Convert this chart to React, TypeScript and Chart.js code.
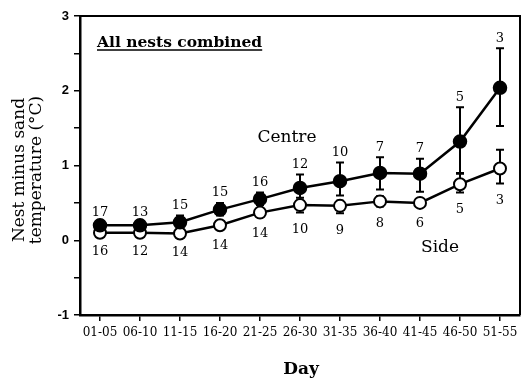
import React, { useEffect, useRef } from "react";
import { Chart, registerables } from "chart.js";

Chart.register(...registerables);

const categories = ["01-05", "06-10", "11-15", "16-20", "21-25", "26-30", "31-35", "36-40", "41-45", "46-50", "51-55"];

const centreValues = [0.2, 0.2, 0.24, 0.41, 0.55, 0.7, 0.79, 0.9, 0.89, 1.32, 2.04];
const centreUpper = [0.23, 0.23, 0.33, 0.5, 0.64, 0.88, 1.04, 1.11, 1.09, 1.78, 2.57];
const centreLower = [0.17, 0.17, 0.16, 0.33, 0.47, 0.57, 0.6, 0.68, 0.65, 0.89, 1.53];
const centreN = ["17", "13", "15", "15", "16", "12", "10", "7", "7", "5", "3"];

const sideValues = [0.1, 0.1, 0.09, 0.2, 0.37, 0.47, 0.46, 0.52, 0.5, 0.75, 0.96];
const sideUpper = [0.12, 0.12, 0.11, 0.23, 0.41, 0.53, 0.53, 0.59, 0.54, 0.9, 1.21];
const sideLower = [0.07, 0.07, 0.06, 0.16, 0.32, 0.37, 0.36, 0.45, 0.45, 0.64, 0.76];
const sideN = ["16", "12", "14", "14", "14", "10", "9", "8", "6", "5", "3"];

const yTitleLines = ["Nest minus sand", "temperature (°C)"];
const xTitle = "Day";
const panelTitle = "All nests combined";
const centreLabel = "Centre";
const sideLabel = "Side";

const SERIF = "'DejaVu Serif', serif";

const overlayPlugin = {
  id: "overlay",
  beforeDatasetsDraw(chart: any) {
    const ctx = chart.ctx;
    const x = chart.scales.x;
    const y = chart.scales.y;
    ctx.save();
    ctx.strokeStyle = "#000";
    ctx.lineWidth = 2;
    const drawBars = (up: number[], lo: number[]) => {
      for (let i = 0; i < categories.length; i++) {
        const px = x.getPixelForValue(i);
        const pu = y.getPixelForValue(up[i]);
        const pl = y.getPixelForValue(lo[i]);
        ctx.beginPath();
        ctx.moveTo(px, pu);
        ctx.lineTo(px, pl);
        ctx.moveTo(px - 4, pu);
        ctx.lineTo(px + 4, pu);
        ctx.moveTo(px - 4, pl);
        ctx.lineTo(px + 4, pl);
        ctx.stroke();
      }
    };
    drawBars(centreUpper, centreLower);
    drawBars(sideUpper, sideLower);
    ctx.restore();
  },
  afterDraw(chart: any) {
    const ctx = chart.ctx;
    const x = chart.scales.x;
    const y = chart.scales.y;
    const area = chart.chartArea;
    ctx.save();
    // frame
    ctx.strokeStyle = "#000";
    ctx.lineWidth = 2;
    ctx.beginPath();
    ctx.moveTo(area.left, area.top);
    ctx.lineTo(area.right, area.top);
    ctx.lineTo(area.right, area.bottom);
    ctx.stroke();

    ctx.fillStyle = "#000";
    ctx.textAlign = "center";
    ctx.textBaseline = "middle";
    // n labels
    ctx.font = `13px ${SERIF}`;
    for (let i = 0; i < categories.length; i++) {
      const px = x.getPixelForValue(i);
      ctx.fillText(centreN[i], px, y.getPixelForValue(centreUpper[i]) - 10);
      ctx.fillText(sideN[i], px, y.getPixelForValue(sideLower[i]) + 17);
    }
    // series labels
    ctx.font = `17px ${SERIF}`;
    ctx.fillText(centreLabel, 287, 138);
    ctx.fillText(sideLabel, 440, 248);
    // x title
    ctx.font = `bold 17px ${SERIF}`;
    ctx.fillText(xTitle, 301, 370);
    // y title
    ctx.font = `17px ${SERIF}`;
    ctx.save();
    ctx.translate(20, 170);
    ctx.rotate(-Math.PI / 2);
    ctx.fillText(yTitleLines[0], 0, 0);
    ctx.restore();
    ctx.save();
    ctx.translate(37, 170);
    ctx.rotate(-Math.PI / 2);
    ctx.fillText(yTitleLines[1], 0, 0);
    ctx.restore();
    // panel title
    ctx.font = `bold 15.5px ${SERIF}`;
    ctx.textAlign = "left";
    ctx.fillText(panelTitle, 97, 43);
    const w = ctx.measureText(panelTitle).width;
    ctx.lineWidth = 1.3;
    ctx.beginPath();
    ctx.moveTo(97, 50);
    ctx.lineTo(97 + w, 50);
    ctx.stroke();
    ctx.restore();
  },
};

export default function App() {
  const ref = useRef<HTMLCanvasElement | null>(null);
  useEffect(() => {
    if (!ref.current) return;
    const chart = new Chart(ref.current, {
      type: "line",
      data: {
        labels: categories,
        datasets: [
          {
            label: "Centre",
            data: centreValues,
            borderColor: "#000",
            borderWidth: 2.5,
            backgroundColor: "#000",
            pointBackgroundColor: "#000",
            pointBorderColor: "#000",
            pointBorderWidth: 1.5,
            pointRadius: 6.5,
            tension: 0,
          },
          {
            label: "Side",
            data: sideValues,
            borderColor: "#000",
            borderWidth: 2.5,
            backgroundColor: "#fff",
            pointBackgroundColor: "#fff",
            pointBorderColor: "#000",
            pointBorderWidth: 2,
            pointRadius: 6,
            tension: 0,
          },
        ],
      },
      options: {
        animation: false,
        responsive: true,
        maintainAspectRatio: false,
        layout: { padding: { left: 0, right: 6, top: 16, bottom: 0 } },
        plugins: { legend: { display: false }, tooltip: { enabled: false } },
        scales: {
          x: {
            type: "category",
            offset: true,
            grid: {
              offset: false,
              drawOnChartArea: false,
              drawTicks: true,
              tickLength: 6,
              color: "#000",
              lineWidth: 1.5,
            },
            border: { display: true, color: "#000", width: 2.5 },
            ticks: {
              color: "#000",
              padding: 5,
              maxRotation: 0,
              autoSkip: false,
              font: { family: SERIF, size: 12 },
            },
            afterFit: (s: any) => {
              s.height = 64;
            },
          },
          y: {
            min: -1,
            max: 3,
            grid: {
              drawOnChartArea: false,
              drawTicks: true,
              tickLength: 6,
              color: "#000",
              lineWidth: 1.5,
            },
            border: { display: true, color: "#000", width: 2.5 },
            ticks: {
              stepSize: 0.5,
              color: "#000",
              padding: 5,
              font: { family: "'Liberation Sans', Arial, sans-serif", size: 13, weight: "bold" },
              callback: (v: any) => (Number.isInteger(Number(v)) ? String(v) : ""),
            },
            afterFit: (s: any) => {
              s.width = 80;
            },
          },
        },
      },
      plugins: [overlayPlugin],
    });
    return () => chart.destroy();
  }, []);
  return (
    <div style={{ position: "fixed", left: 0, top: 0, width: 528, height: 379, background: "#fff" }}>
      <canvas ref={ref} />
    </div>
  );
}
